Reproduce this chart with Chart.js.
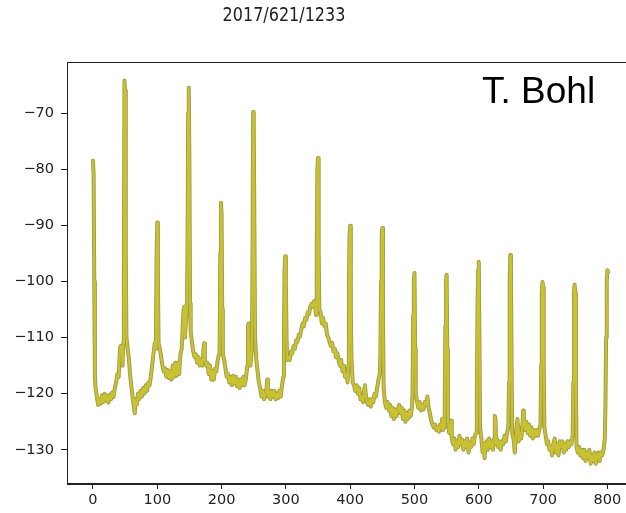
<!DOCTYPE html>
<html>
<head>
<meta charset="utf-8">
<script src="https://cdn.jsdelivr.net/npm/chart.js@4.4.1/dist/chart.umd.min.js"></script>
<style>
  html, body { margin: 0; padding: 0; background: #fff; overflow: hidden; }
  #wrap { position: relative; width: 626px; height: 513px; overflow: hidden; }
  #chart { position: absolute; left: 0; top: 0; }
  #title {
    position: absolute; left: 0; top: 5px; width: 568px; text-align: center;
    font-family: "DejaVu Sans"; font-size: 16px; line-height: 16px; color: #222;
    transform: scaleY(1.25); transform-origin: top;
  }
  #author {
    position: absolute; left: 482px; top: 71px;
    font-family: "Liberation Sans", Arial; font-size: 37px; line-height: 40px; color: #000;
  }
</style>
</head>
<body>
<div id="wrap">
  <canvas id="chart" width="645" height="513"></canvas>
  <div id="title">2017/621/1233</div>
  <div id="author">T. Bohl</div>
</div>
<script>
// spectrum (x, level)
const freq = [
  0, 1, 2, 3, 4, 6, 8, 10, 12, 14, 16, 18, 20, 22, 24, 26, 28, 30, 32, 34, 36, 38, 40, 42, 43, 45, 46, 47, 48, 49, 50, 51, 52, 54, 56, 58,
  60, 62, 64, 65, 66, 68, 70, 72, 74, 76, 78, 80, 82, 84, 86, 88, 90, 92, 94, 96, 97, 98, 99, 100, 101, 102, 104, 106, 108,
  110, 112, 114, 116, 118, 120, 122, 124, 126, 128, 130, 132, 134, 136, 138, 140, 141, 142, 143, 144, 146, 147, 148, 149, 150, 151, 152, 154, 156, 158,
  160, 162, 164, 166, 168, 170, 172, 173, 174, 176, 178, 180, 182, 184, 186, 188, 190, 192, 194, 196, 197, 198, 199, 200, 201, 202, 204, 206, 208,
  210, 212, 214, 216, 218, 220, 222, 224, 226, 228, 230, 232, 234, 236, 238, 240, 241, 242, 243, 245, 247, 248, 249, 250, 251, 252, 254, 256, 258,
  260, 262, 264, 266, 268, 270, 271, 272, 274, 276, 278, 280, 282, 284, 286, 288, 290, 292, 294, 296, 297, 298, 299, 300, 301, 302, 304, 306, 308,
  310, 312, 314, 316, 318, 320, 322, 324, 326, 328, 330, 332, 334, 336, 338, 340, 342, 344, 346, 347, 348, 349, 350, 351, 352, 354, 356, 358,
  360, 362, 364, 366, 368, 370, 372, 374, 376, 378, 380, 382, 384, 386, 388, 390, 392, 394, 396, 397, 398, 399, 400, 401, 402, 404, 406, 408,
  410, 412, 414, 416, 418, 420, 422, 423, 424, 426, 428, 430, 432, 434, 436, 438, 440, 442, 444, 446, 447, 448, 449, 450, 451, 452, 454, 456, 458,
  460, 462, 464, 466, 468, 470, 472, 474, 476, 478, 480, 482, 484, 486, 488, 490, 492, 494, 496, 497, 498, 499, 500, 501, 502, 504, 506, 508,
  510, 512, 514, 516, 518, 520, 522, 524, 526, 528, 530, 532, 534, 536, 538, 540, 542, 543, 544, 546, 547, 548, 549, 550, 551, 552, 554, 556, 557, 558,
  560, 562, 564, 566, 568, 570, 572, 574, 576, 578, 580, 582, 584, 586, 588, 590, 592, 594, 596, 597, 598, 599, 600, 601, 602, 604, 606, 608, 609,
  610, 612, 614, 616, 618, 620, 622, 624, 625, 626, 627, 628, 630, 632, 634, 636, 638, 640, 642, 644, 646, 647, 648, 649, 650, 651, 652, 654, 656, 658,
  660, 661, 662, 664, 666, 668, 669, 670, 672, 674, 676, 678, 680, 682, 684, 686, 688, 690, 692, 694, 696, 697, 698, 699, 700, 701, 702, 704, 706, 708,
  710, 712, 714, 716, 718, 720, 722, 724, 726, 728, 730, 732, 734, 736, 738, 740, 742, 744, 746, 747, 748, 749, 750, 751, 752, 754, 756, 758,
  760, 762, 764, 766, 768, 770, 772, 774, 776, 778, 780, 782, 784, 786, 788, 790, 792, 794, 796, 797, 798, 799, 800, 801
];
const level = [
  -78.5, -81, -100, -117, -119, -120.5, -122, -121, -121.8, -120.3, -121.5, -120, -121.2, -120.4, -121.6, -120.2, -121, -119.8, -120.6, -119, -118, -116.5, -117, -112, -111.5, -112, -115, -111, -100, -64.2, -66, -95, -110, -112, -114, -117,
  -119, -121, -122.5, -123.5, -121, -122, -120, -121, -119.5, -120.5, -119, -120, -118.5, -119.5, -118, -118.5, -117, -115, -113, -111, -112, -108, -95, -89.5, -100, -111, -112, -113.5, -115,
  -116, -115.5, -117, -115.8, -117.2, -116, -117.5, -115, -117, -114.5, -116.8, -114.5, -116.5, -113, -112, -107, -105, -104.5, -110, -108, -105, -95, -70, -65.5, -80, -104, -109, -111, -112.5, -113.5,
  -113, -114.5, -113.5, -115, -114, -115, -112, -111, -114, -115, -114.5, -116.5, -115, -117.5, -116, -117.5, -115.5, -116, -114, -113, -111, -95, -86, -88, -105, -113, -114, -115.5, -117,
  -116.5, -118, -117, -118.5, -116.8, -118.2, -117, -118.7, -117.5, -119, -117.5, -118.5, -117, -118.5, -117.2, -115, -108, -107.5, -114, -115, -112, -100, -69.8, -72, -90, -110, -114, -116, -118,
  -119, -120.5, -119.5, -121, -120, -119, -117.5, -120.5, -119.5, -121, -119.5, -120.5, -119.5, -121, -120, -120.8, -119.5, -120.5, -118.5, -117, -110, -98, -95.5, -100, -110, -114, -113.5, -114, -112.5,
  -112.8, -111.5, -112, -110.5, -110.8, -109.5, -109.8, -108.5, -107.5, -108, -106.5, -106.8, -105.5, -105.8, -104.5, -104, -104.5, -103.5, -104.5, -106, -95, -80, -78, -95, -105, -105.5, -107.5, -106.5,
  -108, -107.5, -109.5, -110, -110.8, -111.5, -111, -112.5, -112, -113.5, -112.8, -114, -115, -114, -116, -115, -117, -116.5, -118, -115, -100, -92, -90.1, -105, -114, -118, -118.5, -119.5,
  -118.5, -120, -119, -121, -120.5, -121.5, -119, -118.5, -120, -121.5, -122, -121, -122.3, -121, -121.5, -120, -120.5, -119, -117.5, -116.5, -113, -100, -92, -90.5, -105, -119, -121.5, -122.5, -121.5,
  -123, -122, -124, -122.5, -124.5, -122.8, -124, -123, -122, -123.5, -122.5, -124.5, -123, -125, -123.5, -124.5, -123, -124, -122.5, -120, -106, -100, -98.5, -112, -120, -121.5, -122.5, -121.5,
  -123, -122, -122.8, -121.5, -122, -120.5, -122.5, -123.5, -124.8, -125.5, -126, -125.5, -126.5, -126, -126.8, -125.5, -126, -124.5, -126.5, -126, -123, -108, -100, -98.8, -112, -125, -127, -126.5, -124.8, -128,
  -129, -128, -130, -128.5, -129.5, -127.5, -129, -128.2, -130, -128.5, -129.5, -128, -130.5, -128.8, -129.5, -128, -129, -127.5, -127, -120, -105, -98, -96.5, -110, -126, -128, -130.5, -129, -131.5,
  -129.5, -128.5, -130, -128, -129.5, -128.5, -130, -128, -124, -124.5, -129, -128, -129.5, -128.5, -130, -128.5, -129, -127.5, -128.5, -127, -126, -118, -100, -95.3, -97, -115, -127, -128, -130.5, -127,
  -124.5, -126, -128.5, -127, -128, -125.5, -123, -124, -126.5, -125, -127, -125.5, -127.5, -126, -128, -126.5, -127.5, -126.5, -127.5, -126.5, -125.5, -115, -102, -100.1, -101, -115, -126, -127.5, -129, -128.5,
  -130, -129.5, -131, -129, -128, -130.5, -129, -131, -128.5, -129.5, -128.5, -130.5, -129, -130, -128.5, -129.5, -128.5, -129, -127.5, -118, -102, -100.6, -102, -118, -129.5, -130.5, -129.5, -131,
  -130, -131.5, -130, -132, -130.5, -131.5, -130, -132.5, -131, -132, -130.5, -132.5, -131, -130.5, -132, -130.5, -131, -130, -128, -122, -110, -100, -98, -98.3
];
const xTicks = [0, 100, 200, 300, 400, 500, 600, 700, 800];
const yTicks = [-130, -120, -110, -100, -90, -80, -70];

const points = freq.map((f, i) => ({ x: f, y: level[i] }));

// matplotlib style frame round the plot area
const frame = {
  id: 'frame',
  afterDraw(chart) {
    const a = chart.chartArea;
    const ctx = chart.ctx;
    ctx.save();
    ctx.strokeStyle = '#222';
    ctx.lineWidth = 1;
    ctx.strokeRect(a.left + 0.5, a.top + 0.5, a.right - a.left - 1, a.bottom - a.top - 1);
    ctx.restore();
  }
};

const minus = v => String(v).replace('-', '\u2212');

new Chart(document.getElementById('chart'), {
  type: 'line',
  data: {
    datasets: [{
      data: points,
      borderColor: '#c8c130',
      borderWidth: 2.2,
      borderJoinStyle: 'round',
      borderCapStyle: 'round',
      pointRadius: 0,
      tension: 0,
      order: 0
    }, {
      data: points,
      borderColor: '#a09b4a',
      borderWidth: 4,
      borderJoinStyle: 'round',
      borderCapStyle: 'round',
      pointRadius: 0,
      tension: 0,
      order: 1
    }]
  },
  options: {
    responsive: false,
    animation: false,
    devicePixelRatio: 1,
    layout: { padding: { left: 0, top: 62, right: 9, bottom: 0 } },
    plugins: { legend: { display: false }, tooltip: { enabled: false } },
    scales: {
      x: {
        type: 'linear',
        min: -40.4,
        max: 844.5,
        afterFit: s => { s.height = 29; },
        afterBuildTicks: s => { s.ticks = xTicks.map(v => ({ value: v })); },
        grid: { drawOnChartArea: false, tickLength: 5, color: '#222' },
        border: { display: true, color: '#222' },
        ticks: {
          padding: 3,
          color: '#222',
          font: { family: 'DejaVu Sans', size: 14.5 },
          callback: v => minus(v)
        }
      },
      y: {
        type: 'linear',
        min: -136.1,
        max: -60.9,
        afterFit: s => { s.width = 67; },
        afterBuildTicks: s => { s.ticks = yTicks.map(v => ({ value: v })); },
        grid: { drawOnChartArea: false, tickLength: 6, color: '#222' },
        border: { display: true, color: '#222' },
        ticks: {
          padding: 7,
          color: '#222',
          font: { family: 'DejaVu Sans', size: 14.5 },
          callback: v => minus(v)
        }
      }
    }
  },
  plugins: [frame]
});
</script>
</body>
</html>
